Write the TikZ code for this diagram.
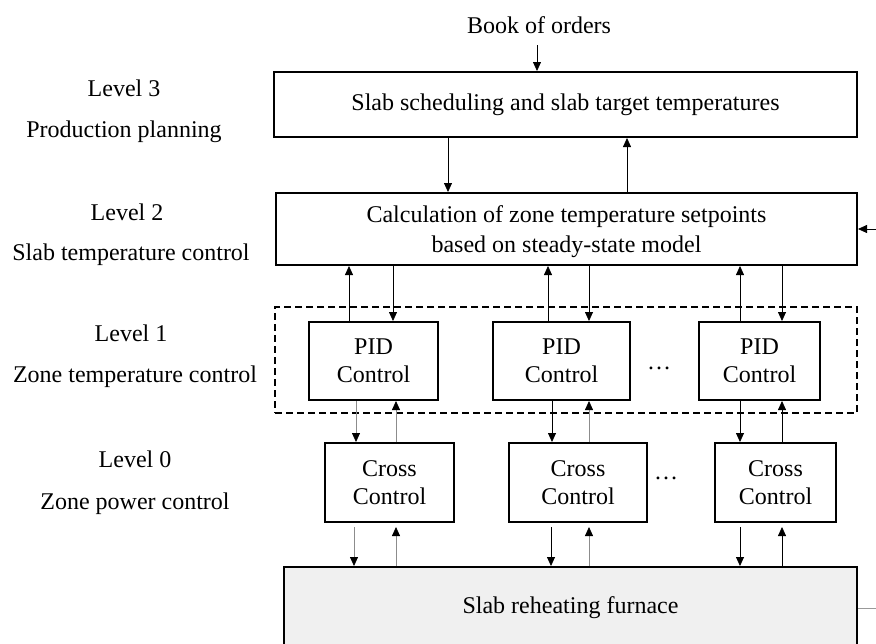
\documentclass[tikz,border=0pt]{standalone}
\usepackage{fontspec}
\setmainfont{Liberation Serif}
\usetikzlibrary{arrows.meta}
\begin{document}
\begin{tikzpicture}[x=1pt,y=-1pt,
  font=\fontsize{24}{28}\selectfont,
  box/.style={draw, line width=2pt, align=center, inner sep=0pt},
  lbl/.style={inner sep=0pt, align=center},
  arr/.style={-{Triangle[length=9pt,width=8pt,color=black]}, line width=0.8pt},
  garr/.style={arr, draw=black!45},
  dashbox/.style={draw, line width=2pt, dash pattern=on 7pt off 4pt, inner sep=0pt}]
\clip (0,0) rectangle (876,643);
\fill[white] (0,0) rectangle (876,643);

% left labels
\node[lbl] (t3) at (124,88) {Level 3};
\node[lbl] (s3) at (124,132) {Production planning};
\node[lbl] (t2) at (127,212) {Level 2};
\node[lbl] (s2) at (131,255) {Slab temperature control};
\node[lbl] (t1) at (131,333) {Level 1};
\node[lbl] (s1) at (135,377) {Zone temperature control};
\node[lbl] (t0) at (135,459) {Level 0};
\node[lbl] (s0) at (135,504) {Zone power control};

% top
\node[lbl] (B) at (539,25) {Book of orders};
\node[box, minimum width=583pt, minimum height=65pt] (L3) at (565.5,104.5) {Slab scheduling and slab target temperatures};
\node[box, minimum width=581pt, minimum height=72pt, font=\fontsize{24}{30}\selectfont, text depth=0pt] (L2) at (566.5,229) {Calculation of zone temperature setpoints\\based on steady-state model};

% level 1
\node[dashbox, minimum width=582pt, minimum height=106pt] (L1) at (566,360) {};
\node[box, minimum width=129pt, minimum height=78pt] (P1) at (373.5,361) {PID\\Control};
\node[box, minimum width=137pt, minimum height=78pt] (P2) at (561.5,361) {PID\\Control};
\node[box, minimum width=121pt, minimum height=78pt] (P3) at (759.5,361) {PID\\Control};
\node[lbl] (pd) at (659,368) {\dots};

% level 0
\node[box, minimum width=129pt, minimum height=79pt] (C1) at (389.5,482.5) {Cross\\Control};
\node[box, minimum width=138pt, minimum height=79pt] (C2) at (578,482.5) {Cross\\Control};
\node[box, minimum width=121pt, minimum height=79pt] (C3) at (775.5,482.5) {Cross\\Control};
\node[lbl] (cd) at (666,478) {\dots};

% furnace
\node[box, fill=black!6, minimum width=573pt, minimum height=82pt] (F) at (570.5,608) {Slab reheating furnace};

% coordinates for connectors
\coordinate (bk) at (537,45);
\coordinate (a1) at (448,0);
\coordinate (a2) at (627,0);
\coordinate (rin) at (880,229);
\coordinate (rout) at (880,608);
\coordinate (u1) at (349,0); \coordinate (d1) at (393,0);
\coordinate (u2) at (548,0); \coordinate (d2) at (589,0);
\coordinate (u3) at (740,0); \coordinate (d3) at (782,0);
\coordinate (e1) at (356,0); \coordinate (f1) at (396,0);
\coordinate (e2) at (552,0); \coordinate (f2) at (589,0);
\coordinate (e3) at (740,0); \coordinate (f3) at (782,0);
\coordinate (g1) at (354,0); \coordinate (h1) at (396,0);
\coordinate (g2) at (551,0); \coordinate (h2) at (589,0);
\coordinate (g3) at (740,0); \coordinate (h3) at (782,0);

% connectors
\draw[arr] (bk) -- (L3.north -| bk);
\draw[arr] (L3.south -| a1) -- (L2.north -| a1);
\draw[arr] (L2.north -| a2) -- (L3.south -| a2);
\draw[arr] (rin) -- (L2.east |- rin);

\draw[arr] (P1.north -| u1) -- (L2.south -| u1);
\draw[arr] (L2.south -| d1) -- (P1.north -| d1);
\draw[arr] (P2.north -| u2) -- (L2.south -| u2);
\draw[arr] (L2.south -| d2) -- (P2.north -| d2);
\draw[arr] (P3.north -| u3) -- (L2.south -| u3);
\draw[arr] (L2.south -| d3) -- (P3.north -| d3);

\draw[garr] (P1.south -| e1) -- (C1.north -| e1);
\draw[garr] (C1.north -| f1) -- (P1.south -| f1);
\draw[arr] (P2.south -| e2) -- (C2.north -| e2);
\draw[garr] (C2.north -| f2) -- (P2.south -| f2);
\draw[arr] (P3.south -| e3) -- (C3.north -| e3);
\draw[arr] (C3.north -| f3) -- (P3.south -| f3);

\draw[garr] ([yshift=-4pt]C1.south -| g1) -- (F.north -| g1);
\draw[garr] (F.north -| h1) -- ([yshift=-4pt]C1.south -| h1);
\draw[arr] ([yshift=-4pt]C2.south -| g2) -- (F.north -| g2);
\draw[garr] (F.north -| h2) -- ([yshift=-4pt]C2.south -| h2);
\draw[arr] ([yshift=-4pt]C3.south -| g3) -- (F.north -| g3);
\draw[arr] (F.north -| h3) -- ([yshift=-4pt]C3.south -| h3);

\draw[black!40, line width=1pt] (F.east) -- (rout);
\end{tikzpicture}
\end{document}
